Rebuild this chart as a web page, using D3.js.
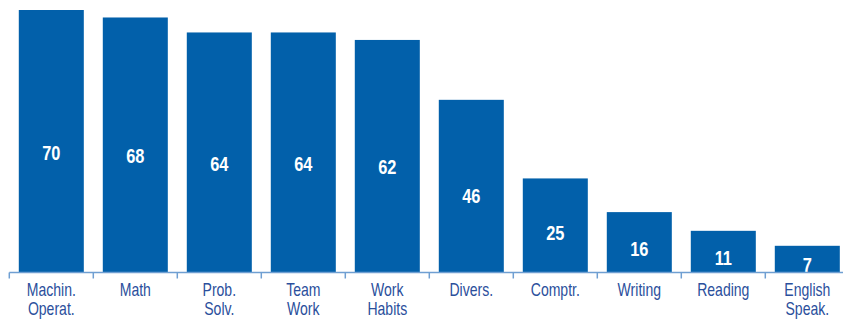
<!DOCTYPE html>
<html>
<head>
<meta charset="utf-8">
<script src="https://cdn.jsdelivr.net/npm/d3@7"></script>
<style>
  html, body { margin: 0; padding: 0; background: #ffffff; }
  svg { display: block; }
</style>
</head>
<body>
<svg id="chart" width="843" height="320"></svg>
<script>
// Skill categories (two-line labels split on "|") and their shares
const categories = [
  "Machin.|Operat.", "Math", "Prob.|Solv.", "Team|Work", "Work|Habits",
  "Divers.", "Comptr.", "Writing", "Reading", "English|Speak."
];
const values = [70, 68, 64, 64, 62, 46, 25, 16, 11, 7];

const svg = d3.select("#chart");
const width = 843, height = 320;
const baseY = 272, topY = 10;

const x = d3.scaleBand()
  .domain(categories)
  .range([9.3, 849.3])
  .paddingInner(0.226)
  .paddingOuter(0.113);

const y = d3.scaleLinear()
  .domain([0, 70])
  .range([baseY, topY]);

const barColor = "#0260aa";
const axisColor = "#6f9fd2";
const labelColor = "#2b4f9c";
const font = "'Liberation Sans', Arial, sans-serif";

// Bars
svg.append("g")
  .selectAll("rect")
  .data(values)
  .join("rect")
  .attr("x", (d, i) => x(categories[i]))
  .attr("y", d => y(d))
  .attr("width", x.bandwidth())
  .attr("height", d => baseY - y(d))
  .attr("fill", barColor);

// Value labels inside the bars (condensed horizontally)
svg.append("g")
  .selectAll("text")
  .data(values)
  .join("text")
  .attr("transform", (d, i) =>
    `translate(${x(categories[i]) + x.bandwidth() / 2},${y(d * 0.477) + 5.4}) scale(0.8,1)`)
  .attr("dy", "0.36em")
  .attr("text-anchor", "middle")
  .attr("fill", "#ffffff")
  .attr("font-family", font)
  .attr("font-weight", "bold")
  .attr("font-size", "20.5px")
  .text(d => d);

// Category axis: ticks sit on the band boundaries
const axisG = svg.append("g").attr("transform", `translate(0,${baseY + 0.5})`);
axisG.append("line")
  .attr("x1", x.range()[0]).attr("x2", width)
  .attr("stroke", axisColor).attr("stroke-width", 1.5);
const step = x.step();
axisG.selectAll("line.tick")
  .data(d3.range(categories.length))
  .join("line")
  .attr("class", "tick")
  .attr("x1", i => x.range()[0] + i * step)
  .attr("x2", i => x.range()[0] + i * step)
  .attr("y1", 0).attr("y2", 6)
  .attr("stroke", axisColor).attr("stroke-width", 1.5);

// Category labels (condensed horizontally)
const lab = svg.append("g")
  .selectAll("text")
  .data(categories)
  .join("text")
  .attr("transform", d => `translate(${x(d) + x.bandwidth() / 2},296) scale(0.78,1)`)
  .attr("text-anchor", "middle")
  .attr("fill", labelColor)
  .attr("font-family", font)
  .attr("font-size", "18px");
lab.each(function(d) {
  const t = d3.select(this);
  d.split("|").forEach((p, k) => {
    t.append("tspan")
      .attr("x", 0)
      .attr("dy", k === 0 ? 0 : 19)
      .text(p);
  });
});
</script>
</body>
</html>
